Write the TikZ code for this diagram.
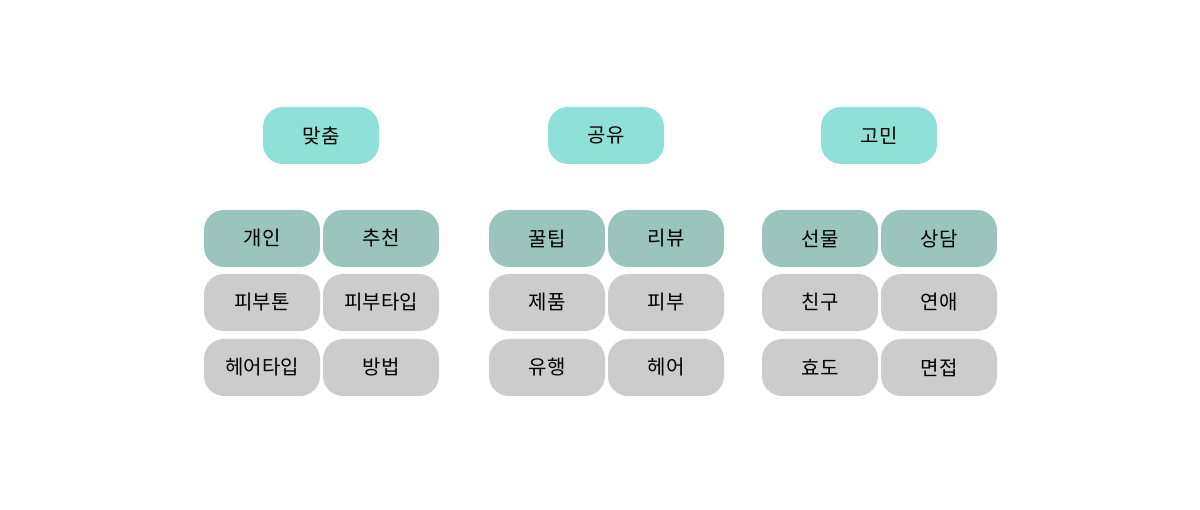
\documentclass[tikz,border=0pt]{standalone}
\usepackage{fontspec}
\setmainfont{Noto Sans CJK KR}
\definecolor{topteal}{HTML}{8FE1D7}
\definecolor{subteal}{HTML}{9AC4BC}
\definecolor{boxgray}{HTML}{CCCCCC}

\begin{document}
\begin{tikzpicture}[x=1pt,y=-1pt]
\tikzset{Box/.style ={shape=rectangle, rounded corners=20pt, minimum width=116pt, minimum height=57pt, inner sep=0pt, font=\fontsize{20}{24}\selectfont}}
\tikzset{TopBox/.style ={Box, fill=topteal}}
\tikzset{SubBox/.style ={Box, fill=subteal}}
\tikzset{ItemBox/.style ={Box, fill=boxgray}}
\useasboundingbox (0,0) rectangle (1200,510);
% 맞춤
\node[TopBox] (matchum) at (321,135.5) {맞춤};
\node[SubBox] (gaein) at (262,238.5) {개인};
\node[SubBox] (chucheon) at (381,238.5) {추천};
\node[ItemBox] (pibuton) at (262,302.5) {피부톤};
\node[ItemBox] (pibutaip) at (381,302.5) {피부타입};
\node[ItemBox] (heeotaip) at (262,367.5) {헤어타입};
\node[ItemBox] (bangbeop) at (381,367.5) {방법};
% 공유
\node[TopBox] (gongyu) at (606,135.5) {공유};
\node[SubBox] (kkultip) at (547,238.5) {꿀팁};
\node[SubBox] (ribyu) at (666,238.5) {리뷰};
\node[ItemBox] (jepum) at (547,302.5) {제품};
\node[ItemBox] (pibu) at (666,302.5) {피부};
\node[ItemBox] (yuhaeng) at (547,367.5) {유행};
\node[ItemBox] (heeo) at (666,367.5) {헤어};
% 고민
\node[TopBox] (gomin) at (879,135.5) {고민};
\node[SubBox] (seonmul) at (820,238.5) {선물};
\node[SubBox] (sangdam) at (939,238.5) {상담};
\node[ItemBox] (chingu) at (820,302.5) {친구};
\node[ItemBox] (yeonae) at (939,302.5) {연애};
\node[ItemBox] (hyodo) at (820,367.5) {효도};
\node[ItemBox] (myeonjeop) at (939,367.5) {면접};
\end{tikzpicture}
\end{document}
